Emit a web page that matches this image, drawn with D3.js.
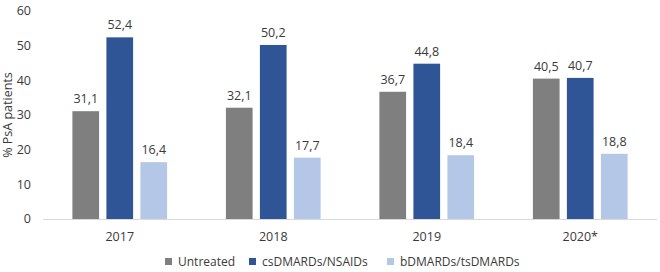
<!DOCTYPE html>
<html>
<head>
<meta charset="utf-8">
<script src="https://d3js.org/d3.v7.min.js"></script>
<style>
  body { margin: 0; background: #fff; }
  text { font-family: "Open Sans", sans-serif; fill: #3a3a3a; }
</style>
</head>
<body>
<svg id="chart" width="660" height="272"></svg>
<script>
// data
const years = ["2017", "2018", "2019", "2020*"];
const series = ["Untreated", "csDMARDs/NSAIDs", "bDMARDs/tsDMARDs"];
const untreated = [31.1, 32.1, 36.7, 40.5];
const csdmards = [52.4, 50.2, 44.8, 40.7];
const bdmards = [16.4, 17.7, 18.4, 18.8];
const yTicks = [0, 10, 20, 30, 40, 50, 60];
const colors = ["#7f7f7f", "#2f5597", "#b4c7e7"];

const values = [untreated, csdmards, bdmards];
const rows = years.map((yr, i) => ({
  year: yr,
  vals: series.map((s, j) => ({ key: s, value: values[j][i] }))
}));

const svg = d3.select("#chart");
const mLeft = 43, mRight = 657, mTop = 11, mBottom = 219;

const x0 = d3.scaleBand().domain(years).range([mLeft, mRight]).paddingInner(0.383).paddingOuter(0.1915);
const x1 = d3.scaleBand().domain(series).range([0, x0.bandwidth()]).paddingInner(0.215);
const y = d3.scaleLinear().domain([0, 60]).range([mBottom, mTop]);
const color = d3.scaleOrdinal().domain(series).range(colors);

const loc = d3.formatLocale({ decimal: ",", thousands: ".", grouping: [3], currency: ["", ""] });
const fmt = loc.format(".1f");

// y tick labels (no axis line, no gridlines)
svg.append("g").selectAll("text")
  .data(yTicks).enter().append("text")
  .attr("x", 31)
  .attr("y", d => y(d))
  .attr("dy", "0.35em")
  .attr("text-anchor", "end")
  .style("font-size", "12.5px")
  .text(d => d);

// axis title
svg.append("text")
  .attr("transform", `translate(12,${(mTop + mBottom) / 2}) rotate(-90)`)
  .attr("text-anchor", "middle")
  .style("font-size", "12.5px")
  .text("% PsA patients");

// bars
const g = svg.append("g").selectAll("g")
  .data(rows).enter().append("g")
  .attr("transform", d => `translate(${x0(d.year)},0)`);

g.selectAll("rect")
  .data(d => d.vals).enter().append("rect")
  .attr("x", d => x1(d.key))
  .attr("y", d => y(d.value))
  .attr("width", x1.bandwidth())
  .attr("height", d => y(0) - y(d.value))
  .attr("fill", d => color(d.key));

g.selectAll("text")
  .data(d => d.vals).enter().append("text")
  .attr("x", d => x1(d.key) + x1.bandwidth() / 2)
  .attr("y", d => y(d.value) - 8)
  .attr("text-anchor", "middle")
  .style("font-size", "12.5px")
  .text(d => fmt(d.value));

// baseline
svg.append("line")
  .attr("x1", mLeft).attr("x2", mRight)
  .attr("y1", y(0) + 0.5).attr("y2", y(0) + 0.5)
  .attr("stroke", "#d9d9d9");

// x labels
svg.append("g").selectAll("text")
  .data(years).enter().append("text")
  .attr("x", d => x0(d) + x0.bandwidth() / 2)
  .attr("y", 241)
  .attr("text-anchor", "middle")
  .style("font-size", "12.5px")
  .text(d => d);

// legend
const legX = [165, 249, 387];
const leg = svg.append("g").selectAll("g")
  .data(series).enter().append("g")
  .attr("transform", (d, i) => `translate(${legX[i]},258)`);
leg.append("rect").attr("width", 7).attr("height", 7).attr("fill", d => color(d));
leg.append("text").attr("x", 13).attr("y", 7.5).style("font-size", "12px").text(d => d);
</script>
</body>
</html>
